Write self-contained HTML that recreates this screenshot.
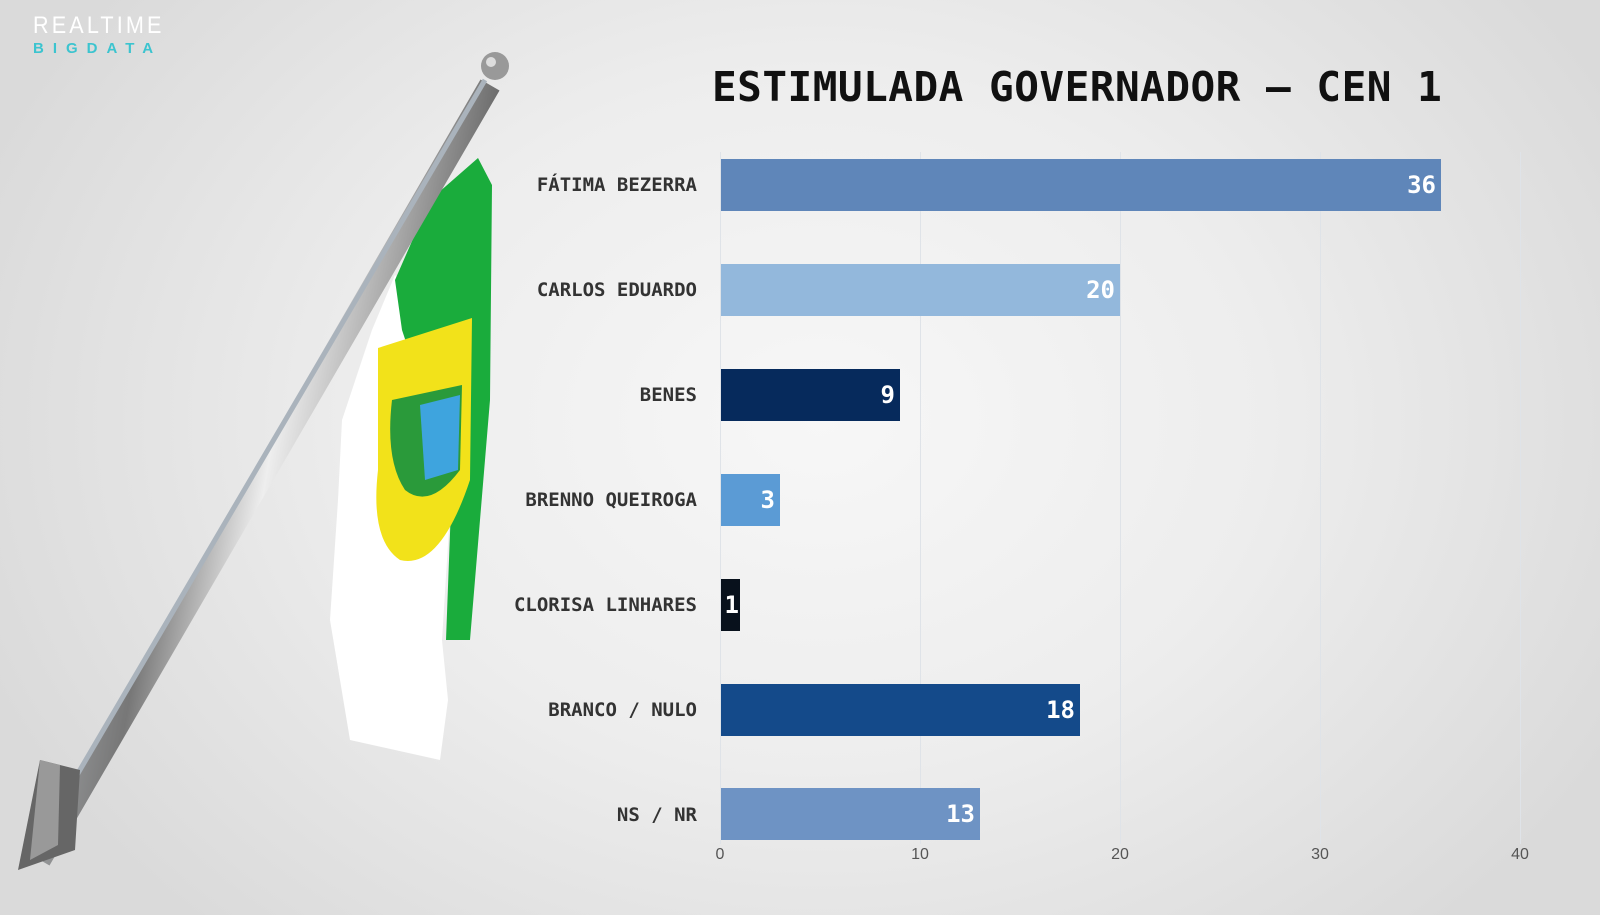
<!DOCTYPE html>
<html><head><meta charset="utf-8"><style>
html,body{margin:0;padding:0;}
body{width:1600px;height:915px;overflow:hidden;position:relative;font-family:"DejaVu Sans Mono","Liberation Mono",monospace;
background:radial-gradient(ellipse 900px 700px at 820px 420px,#f7f7f7 0%,#ededed 50%,#dadada 100%);}
.logo1{position:absolute;left:33px;top:12px;font-family:"Liberation Sans",sans-serif;font-size:24px;letter-spacing:3.5px;color:#fff;transform:scaleX(0.9);transform-origin:left;}
.logo2{position:absolute;left:33px;top:40px;font-family:"Liberation Sans",sans-serif;font-size:15px;letter-spacing:9px;color:#3cc4cf;font-weight:bold;}
.title{position:absolute;left:712px;top:63px;font-size:41px;letter-spacing:0.5px;font-weight:bold;color:#111;white-space:nowrap;}
.grid{position:absolute;top:152px;height:692px;width:1px;background:#dfe3e8;}
.bar{position:absolute;left:721px;height:52px;color:#fff;font-weight:bold;font-size:24px;text-align:right;box-sizing:border-box;padding-right:5px;line-height:52px;}
.lab{position:absolute;right:903px;font-weight:bold;font-size:19px;color:#333;white-space:nowrap;line-height:20px;}
.tick{position:absolute;top:846px;font-family:"Liberation Sans",sans-serif;font-size:16px;color:#555;width:40px;margin-left:-20px;text-align:center;}
</style></head><body>
<div class="logo1">REALTIME</div>
<div class="logo2">BIGDATA</div>
<svg style="position:absolute;left:0;top:0" width="560" height="915">
<defs><linearGradient id="pg" x1="0" y1="0" x2="1" y2="0.3"><stop offset="0" stop-color="#d8dde2"/><stop offset="0.4" stop-color="#777"/><stop offset="0.6" stop-color="#eee"/><stop offset="1" stop-color="#555"/></linearGradient></defs>
<polygon points="395,275 412,295 402,420 452,480 442,640 448,700 440,760 350,740 330,620 338,500 342,420 372,330" fill="#fff"/>
<polygon points="478,158 492,185 490,400 470,640 446,640 452,480 402,330 395,280 430,200" fill="#1aac3c"/>
<path d="M378,348 L472,318 L470,480 Q440,570 400,560 Q370,540 378,470 Z" fill="#f2e21a"/>
<path d="M392,400 L462,385 L460,470 Q430,510 405,490 Q385,460 392,400 Z" fill="#2a9a3a"/>
<path d="M420,405 L460,395 L458,470 L425,480 Z" fill="#3ea4de"/>
<line x1="40" y1="860" x2="490" y2="85" stroke="url(#pg)" stroke-width="22"/>
<line x1="30" y1="855" x2="485" y2="80" stroke="#aab3bc" stroke-width="5"/>
<circle cx="495" cy="66" r="14" fill="#999"/><circle cx="491" cy="62" r="5" fill="#ddd"/>
<polygon points="18,870 40,760 80,770 75,850" fill="#666"/>
<polygon points="40,760 60,765 58,845 30,860" fill="#999"/>
</svg>
<div class="title">ESTIMULADA GOVERNADOR – CEN 1</div>
<div class="grid" style="left:720px"></div><div class="grid" style="left:920px"></div><div class="grid" style="left:1120px"></div><div class="grid" style="left:1320px"></div><div class="grid" style="left:1520px"></div>
<div class="bar" style="top:159px;width:720px;background:#5f86b9">36</div>
<div class="bar" style="top:264px;width:399px;background:#93b8dc">20</div>
<div class="bar" style="top:369px;width:179px;background:#062a5c">9</div>
<div class="bar" style="top:474px;width:59px;background:#5b9bd5">3</div>
<div class="bar" style="top:579px;width:19px;background:#08111c;padding-right:1px">1</div>
<div class="bar" style="top:684px;width:359px;background:#144a8a">18</div>
<div class="bar" style="top:788px;width:259px;background:#6e93c4">13</div>
<div class="lab" style="top:175px">FÁTIMA BEZERRA</div>
<div class="lab" style="top:280px">CARLOS EDUARDO</div>
<div class="lab" style="top:385px">BENES</div>
<div class="lab" style="top:490px">BRENNO QUEIROGA</div>
<div class="lab" style="top:595px">CLORISA LINHARES</div>
<div class="lab" style="top:700px">BRANCO / NULO</div>
<div class="lab" style="top:805px">NS / NR</div>
<div class="tick" style="left:720px">0</div><div class="tick" style="left:920px">10</div><div class="tick" style="left:1120px">20</div><div class="tick" style="left:1320px">30</div><div class="tick" style="left:1520px">40</div>
</body></html>
